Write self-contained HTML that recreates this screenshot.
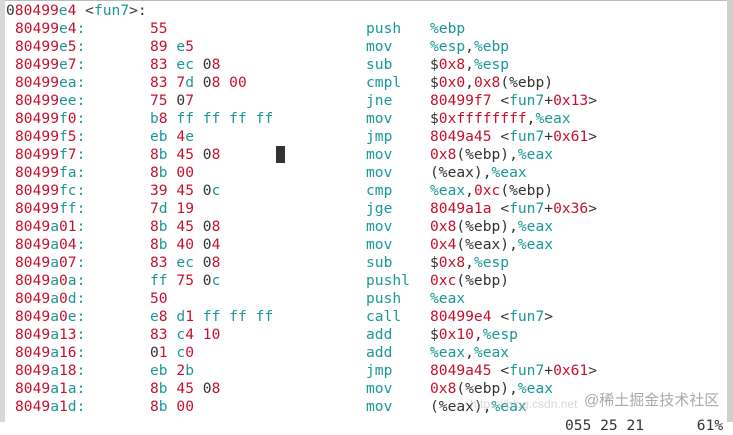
<!DOCTYPE html><html><head><meta charset="utf-8"><style>
body{margin:0;width:733px;height:422px;background:#fff;overflow:hidden;position:relative;font-family:"DejaVu Sans Mono","Liberation Mono",monospace;font-size:14.6px;color:#333}
.l{position:absolute;left:0;top:0;width:5px;height:422px;background:#d8d8d8}
.rb{position:absolute;left:727px;top:0;width:6px;height:422px;background:#cfcfcf}
.tb{position:absolute;left:0;top:0;width:733px;height:1px;background:#bbb}
.row{position:absolute;left:0;height:18px;line-height:18px;white-space:pre}
.c{position:absolute;top:0}
.r{color:#c8102e}.t{color:#1a9898}.d{color:#333}
.cur{position:absolute;left:276px;top:146px;width:9px;height:17px;background:#333}
.wm{position:absolute;left:584px;top:389px;font-family:"Liberation Sans","Noto Sans CJK SC",sans-serif;font-size:15px;color:rgba(140,140,140,.75)}
.wm2{position:absolute;left:470px;top:397px;font-size:12px;color:rgba(180,180,180,.5);font-family:"Liberation Sans",sans-serif}
</style></head><body>
<div class="tb"></div><div class="l"></div><div class="rb"></div>
<div id="c"></div>
<div class="cur"></div>
<div class="wm2">https://blog.csdn.net</div>
<div class="wm">@稀土掘金技术社区</div>
<div class="row" style="top:417px;left:565px;color:#333">055 25 21&nbsp;&nbsp;&nbsp;&nbsp;&nbsp;&nbsp;61%</div>
<script>
var rows=[
["80499e4","55","push","%ebp"],
["80499e5","89 e5","mov","%esp,%ebp"],
["80499e7","83 ec 08","sub","$0x8,%esp"],
["80499ea","83 7d 08 00","cmpl","$0x0,0x8(%ebp)"],
["80499ee","75 07","jne","80499f7 <fun7+0x13>"],
["80499f0","b8 ff ff ff ff","mov","$0xffffffff,%eax"],
["80499f5","eb 4e","jmp","8049a45 <fun7+0x61>"],
["80499f7","8b 45 08","mov","0x8(%ebp),%eax"],
["80499fa","8b 00","mov","(%eax),%eax"],
["80499fc","39 45 0c","cmp","%eax,0xc(%ebp)"],
["80499ff","7d 19","jge","8049a1a <fun7+0x36>"],
["8049a01","8b 45 08","mov","0x8(%ebp),%eax"],
["8049a04","8b 40 04","mov","0x4(%eax),%eax"],
["8049a07","83 ec 08","sub","$0x8,%esp"],
["8049a0a","ff 75 0c","pushl","0xc(%ebp)"],
["8049a0d","50","push","%eax"],
["8049a0e","e8 d1 ff ff ff","call","80499e4 <fun7>"],
["8049a13","83 c4 10","add","$0x10,%esp"],
["8049a16","01 c0","add","%eax,%eax"],
["8049a18","eb 2b","jmp","8049a45 <fun7+0x61>"],
["8049a1a","8b 45 08","mov","0x8(%ebp),%eax"],
["8049a1d","8b 00","mov","(%eax),%eax"]];
function hx(s){var o="";for(var i=0;i<s.length;i++){var ch=s[i];if(ch==" "){o+=" ";continue;}
var lead=(ch=="0"&&(i==0||s[i-1]==" ")&&s[i+1]&&s[i+1]!=" "&&s[i+1]!="0");
o+='<span class="'+(lead?"d":(/[0-9]/.test(ch)?"r":"t"))+'">'+ch+'</span>';}return o;}
function op(s){
return s.replace(/(\(%\w+\))|(0x[0-9a-f]+)|(%\w+)|([0-9a-f]{7})|(fun7)|([<>$,+])/g,function(m,p,a,b,c,d,e){
if(p)return '<span class="d">'+p+'</span>';
if(a)return '<span class="r">'+a+'</span>';
if(b)return '<span class="t">'+b+'</span>';
if(c)return '<span class="r">'+c+'</span>';
if(d)return '<span class="t">'+d+'</span>';
return '<span class="d">'+e.replace("<","&lt;").replace(">","&gt;")+'</span>';});}
var h='<div class="row" style="top:2px"><span class="c" style="left:6px"><span class="d">0</span>'+hx("80499e4")+' <span class="d">&lt;</span><span class="t">fun7</span><span class="d">&gt;:</span></span></div>';
for(var i=0;i<rows.length;i++){var r=rows[i],y=20+i*18;
h+='<div class="row" style="top:'+y+'px;width:733px"><span class="c" style="left:15px">'+hx(r[0])+'<span class="t">:</span></span><span class="c" style="left:150px">'+hx(r[1])+'</span><span class="c t" style="left:366px">'+r[2]+'</span><span class="c" style="left:430px">'+op(r[3])+'</span></div>';}
document.getElementById("c").innerHTML=h;
</script>
</body></html>
